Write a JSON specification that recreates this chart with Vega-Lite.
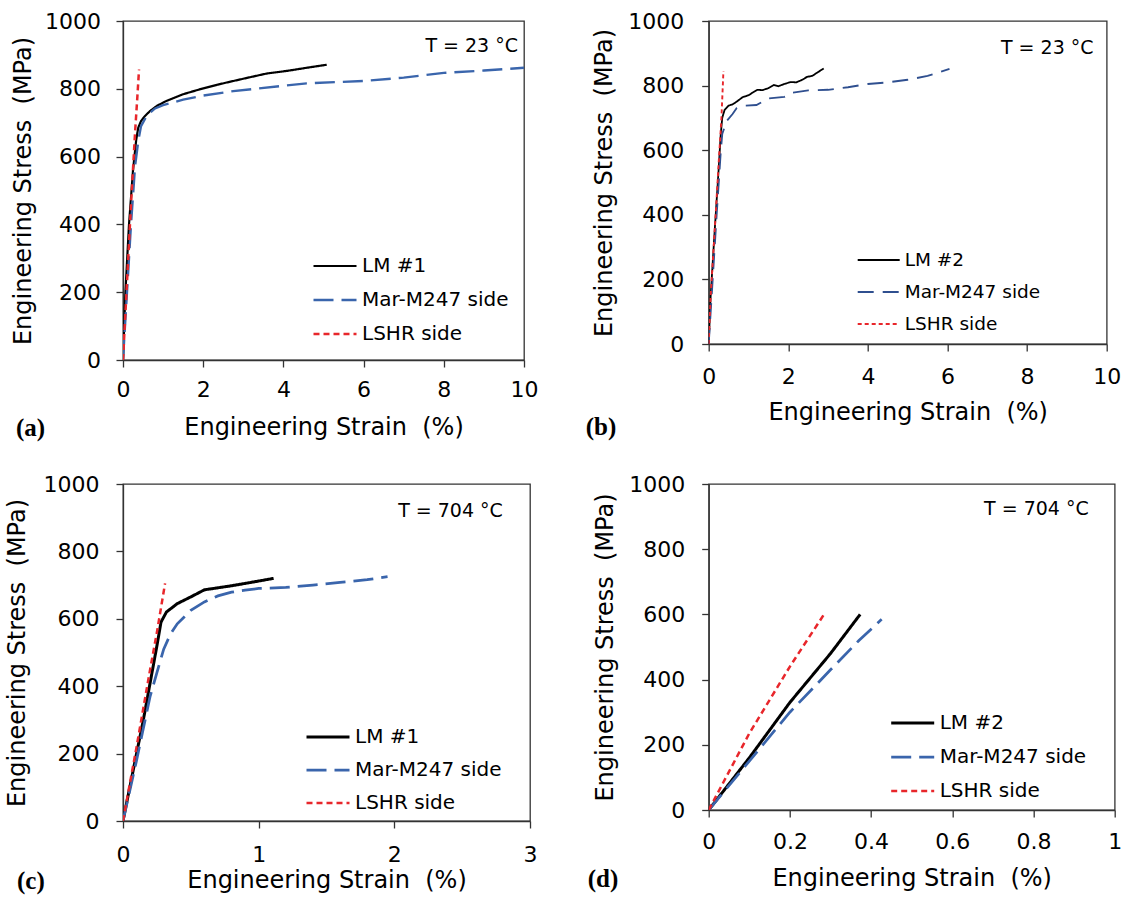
{
"$schema": "https://vega.github.io/schema/vega-lite/v6.json",
"padding": {"left": 5, "top": 9, "right": 0, "bottom": 0},
"background": "white",
"config": {
  "font": "DejaVu Sans",
  "view": {"stroke": "#333333", "strokeWidth": 1.3},
  "axis": {"domainColor": "#333333", "tickColor": "#333333", "tickSize": 7, "tickWidth": 1.3, "domainWidth": 1.3, "labelFont": "DejaVu Sans", "labelFontSize": 22, "labelColor": "#000000", "titleFont": "DejaVu Sans", "titleFontSize": 24, "titleFontWeight": "normal", "titleColor": "#000000", "grid": false, "labelFlush": false, "labelOverlap": false},
  "legend": {"labelFont": "DejaVu Sans", "labelColor": "#000000", "padding": 0}
},
"data": {"values": [
{"p":"a","s":"LM #1","x":0,"y":0},{"p":"a","s":"LM #1","x":0.03,"y":100},{"p":"a","s":"LM #1","x":0.06,"y":200},{"p":"a","s":"LM #1","x":0.15,"y":400},{"p":"a","s":"LM #1","x":0.25,"y":560},{"p":"a","s":"LM #1","x":0.33,"y":650},{"p":"a","s":"LM #1","x":0.38,"y":685},{"p":"a","s":"LM #1","x":0.45,"y":705},{"p":"a","s":"LM #1","x":0.55,"y":720},{"p":"a","s":"LM #1","x":0.67,"y":734},{"p":"a","s":"LM #1","x":0.85,"y":750},{"p":"a","s":"LM #1","x":1.08,"y":764},{"p":"a","s":"LM #1","x":1.5,"y":784},{"p":"a","s":"LM #1","x":1.93,"y":799},{"p":"a","s":"LM #1","x":2.35,"y":812},{"p":"a","s":"LM #1","x":2.75,"y":823},{"p":"a","s":"LM #1","x":3.2,"y":835},{"p":"a","s":"LM #1","x":3.58,"y":845},{"p":"a","s":"LM #1","x":4.1,"y":853},{"p":"a","s":"LM #1","x":4.58,"y":862},{"p":"a","s":"LM #1","x":5.08,"y":871},
{"p":"a","s":"Mar-M247 side","x":0,"y":0},{"p":"a","s":"Mar-M247 side","x":0.05,"y":100},{"p":"a","s":"Mar-M247 side","x":0.1,"y":200},{"p":"a","s":"Mar-M247 side","x":0.2,"y":400},{"p":"a","s":"Mar-M247 side","x":0.3,"y":570},{"p":"a","s":"Mar-M247 side","x":0.38,"y":645},{"p":"a","s":"Mar-M247 side","x":0.45,"y":690},{"p":"a","s":"Mar-M247 side","x":0.6,"y":722},{"p":"a","s":"Mar-M247 side","x":0.8,"y":742},{"p":"a","s":"Mar-M247 side","x":1.0,"y":752},{"p":"a","s":"Mar-M247 side","x":1.5,"y":768},{"p":"a","s":"Mar-M247 side","x":2.0,"y":780},{"p":"a","s":"Mar-M247 side","x":2.75,"y":793},{"p":"a","s":"Mar-M247 side","x":3.92,"y":808},{"p":"a","s":"Mar-M247 side","x":4.58,"y":816},{"p":"a","s":"Mar-M247 side","x":6,"y":823},{"p":"a","s":"Mar-M247 side","x":7,"y":833},{"p":"a","s":"Mar-M247 side","x":8,"y":847},{"p":"a","s":"Mar-M247 side","x":9,"y":854},{"p":"a","s":"Mar-M247 side","x":10,"y":862},
{"p":"a","s":"LSHR side","x":0,"y":0},{"p":"a","s":"LSHR side","x":0.1,"y":230},{"p":"a","s":"LSHR side","x":0.2,"y":460},{"p":"a","s":"LSHR side","x":0.3,"y":670},{"p":"a","s":"LSHR side","x":0.36,"y":780},{"p":"a","s":"LSHR side","x":0.4,"y":857},
{"p":"b","s":"LM #2","x":0,"y":0},{"p":"b","s":"LM #2","x":0.05,"y":150},{"p":"b","s":"LM #2","x":0.15,"y":350},{"p":"b","s":"LM #2","x":0.25,"y":540},{"p":"b","s":"LM #2","x":0.3,"y":645},{"p":"b","s":"LM #2","x":0.34,"y":700},{"p":"b","s":"LM #2","x":0.4,"y":725},{"p":"b","s":"LM #2","x":0.5,"y":738},{"p":"b","s":"LM #2","x":0.6,"y":742},{"p":"b","s":"LM #2","x":0.7,"y":750},{"p":"b","s":"LM #2","x":0.85,"y":764},{"p":"b","s":"LM #2","x":1.0,"y":770},{"p":"b","s":"LM #2","x":1.1,"y":778},{"p":"b","s":"LM #2","x":1.22,"y":787},{"p":"b","s":"LM #2","x":1.35,"y":786},{"p":"b","s":"LM #2","x":1.5,"y":792},{"p":"b","s":"LM #2","x":1.64,"y":802},{"p":"b","s":"LM #2","x":1.75,"y":798},{"p":"b","s":"LM #2","x":1.9,"y":805},{"p":"b","s":"LM #2","x":2.06,"y":811},{"p":"b","s":"LM #2","x":2.2,"y":810},{"p":"b","s":"LM #2","x":2.35,"y":818},{"p":"b","s":"LM #2","x":2.47,"y":827},{"p":"b","s":"LM #2","x":2.6,"y":830},{"p":"b","s":"LM #2","x":2.75,"y":842},{"p":"b","s":"LM #2","x":2.89,"y":853},
{"p":"b","s":"Mar-M247 side","x":0,"y":0},{"p":"b","s":"Mar-M247 side","x":0.05,"y":100},{"p":"b","s":"Mar-M247 side","x":0.1,"y":200},{"p":"b","s":"Mar-M247 side","x":0.2,"y":400},{"p":"b","s":"Mar-M247 side","x":0.3,"y":590},{"p":"b","s":"Mar-M247 side","x":0.34,"y":650},{"p":"b","s":"Mar-M247 side","x":0.45,"y":690},{"p":"b","s":"Mar-M247 side","x":0.6,"y":712},{"p":"b","s":"Mar-M247 side","x":0.7,"y":730},{"p":"b","s":"Mar-M247 side","x":0.9,"y":738},{"p":"b","s":"Mar-M247 side","x":1.2,"y":740},{"p":"b","s":"Mar-M247 side","x":1.5,"y":760},{"p":"b","s":"Mar-M247 side","x":1.9,"y":765},{"p":"b","s":"Mar-M247 side","x":2.1,"y":778},{"p":"b","s":"Mar-M247 side","x":2.5,"y":785},{"p":"b","s":"Mar-M247 side","x":3.0,"y":787},{"p":"b","s":"Mar-M247 side","x":3.5,"y":795},{"p":"b","s":"Mar-M247 side","x":4.0,"y":805},{"p":"b","s":"Mar-M247 side","x":4.5,"y":810},{"p":"b","s":"Mar-M247 side","x":5.0,"y":818},{"p":"b","s":"Mar-M247 side","x":5.5,"y":830},{"p":"b","s":"Mar-M247 side","x":6.05,"y":852},
{"p":"b","s":"LSHR side","x":0,"y":0},{"p":"b","s":"LSHR side","x":0.05,"y":150},{"p":"b","s":"LSHR side","x":0.15,"y":350},{"p":"b","s":"LSHR side","x":0.25,"y":560},{"p":"b","s":"LSHR side","x":0.32,"y":700},{"p":"b","s":"LSHR side","x":0.37,"y":845},
{"p":"c","s":"LM #1","x":0,"y":0},{"p":"c","s":"LM #1","x":0.05,"y":100},{"p":"c","s":"LM #1","x":0.1,"y":200},{"p":"c","s":"LM #1","x":0.15,"y":300},{"p":"c","s":"LM #1","x":0.2,"y":410},{"p":"c","s":"LM #1","x":0.25,"y":520},{"p":"c","s":"LM #1","x":0.28,"y":590},{"p":"c","s":"LM #1","x":0.32,"y":620},{"p":"c","s":"LM #1","x":0.4,"y":645},{"p":"c","s":"LM #1","x":0.5,"y":665},{"p":"c","s":"LM #1","x":0.6,"y":686},{"p":"c","s":"LM #1","x":0.7,"y":692},{"p":"c","s":"LM #1","x":0.8,"y":698},{"p":"c","s":"LM #1","x":0.9,"y":705},{"p":"c","s":"LM #1","x":1.0,"y":712},{"p":"c","s":"LM #1","x":1.11,"y":720},
{"p":"c","s":"Mar-M247 side","x":0,"y":0},{"p":"c","s":"Mar-M247 side","x":0.1,"y":180},{"p":"c","s":"Mar-M247 side","x":0.2,"y":370},{"p":"c","s":"Mar-M247 side","x":0.25,"y":440},{"p":"c","s":"Mar-M247 side","x":0.3,"y":510},{"p":"c","s":"Mar-M247 side","x":0.35,"y":555},{"p":"c","s":"Mar-M247 side","x":0.4,"y":585},{"p":"c","s":"Mar-M247 side","x":0.5,"y":625},{"p":"c","s":"Mar-M247 side","x":0.6,"y":650},{"p":"c","s":"Mar-M247 side","x":0.7,"y":668},{"p":"c","s":"Mar-M247 side","x":0.8,"y":679},{"p":"c","s":"Mar-M247 side","x":0.9,"y":685},{"p":"c","s":"Mar-M247 side","x":1.0,"y":690},{"p":"c","s":"Mar-M247 side","x":1.2,"y":693},{"p":"c","s":"Mar-M247 side","x":1.4,"y":700},{"p":"c","s":"Mar-M247 side","x":1.6,"y":708},{"p":"c","s":"Mar-M247 side","x":1.8,"y":716},{"p":"c","s":"Mar-M247 side","x":1.95,"y":725},
{"p":"c","s":"LSHR side","x":0,"y":0},{"p":"c","s":"LSHR side","x":0.1,"y":220},{"p":"c","s":"LSHR side","x":0.2,"y":450},{"p":"c","s":"LSHR side","x":0.25,"y":560},{"p":"c","s":"LSHR side","x":0.31,"y":705},
{"p":"d","s":"LM #2","x":0,"y":0},{"p":"d","s":"LM #2","x":0.1,"y":160},{"p":"d","s":"LM #2","x":0.2,"y":330},{"p":"d","s":"LM #2","x":0.3,"y":480},{"p":"d","s":"LM #2","x":0.373,"y":600},
{"p":"d","s":"Mar-M247 side","x":0,"y":0},{"p":"d","s":"Mar-M247 side","x":0.1,"y":150},{"p":"d","s":"Mar-M247 side","x":0.2,"y":300},{"p":"d","s":"Mar-M247 side","x":0.3,"y":430},{"p":"d","s":"Mar-M247 side","x":0.37,"y":520},{"p":"d","s":"Mar-M247 side","x":0.426,"y":585},
{"p":"d","s":"LSHR side","x":0,"y":0},{"p":"d","s":"LSHR side","x":0.1,"y":235},{"p":"d","s":"LSHR side","x":0.2,"y":440},{"p":"d","s":"LSHR side","x":0.284,"y":600}
]},
"columns": 2,
"bounds": "flush",
"align": "all",
"spacing": {"row": 124, "column": 178.7},
"resolve": {"scale": {"x": "independent", "y": "independent", "color": "independent", "strokeDash": "independent", "strokeWidth": "independent"}, "axis": {"x": "independent", "y": "independent"}, "legend": {"color": "independent", "strokeDash": "independent"}},
"concat": [
  {"width": 401, "height": 339,
   "title": {"text": "(a)", "orient": "bottom", "anchor": "start", "frame": "group", "dx": -107, "offset": -24, "font": "Liberation Serif", "fontSize": 25, "fontWeight": "bold", "color": "#000000"},
   "layer": [
    {"transform": [{"filter": "datum.p === 'a'"}],
     "mark": {"type": "line", "clip": true},
     "encoding": {
      "x": {"field": "x", "type": "quantitative", "scale": {"domain": [0, 10], "nice": false}, "axis": {"values": [0, 2, 4, 6, 8, 10], "format": "d", "title": "Engineering Strain \u00a0(%)", "labelPadding": 12.7, "titlePadding": 14.8}},
      "y": {"field": "y", "type": "quantitative", "scale": {"domain": [0, 1000], "nice": false}, "axis": {"values": [0, 200, 400, 600, 800, 1000], "format": "d", "title": "Engineering Stress \u00a0(MPa)", "labelPadding": 15.5, "titlePadding": 8.6}},
      "color": {"field": "s", "type": "nominal", "scale": {"domain": ["LM #1", "Mar-M247 side", "LSHR side"], "range": ["#000000", "#3A65AC", "#E8262B"]}, "legend": {"title": null, "orient": "none", "legendX": 189, "legendY": 222, "labelFontSize": 20, "rowPadding": 1, "symbolSize": 1849, "symbolStrokeWidth": 2.5, "labelOffset": 4}},
      "strokeDash": {"field": "s", "type": "nominal", "scale": {"domain": ["LM #1", "Mar-M247 side", "LSHR side"], "range": [[1, 0], [20, 8], [6, 4]]}, "legend": {"title": null, "orient": "none", "legendX": 189, "legendY": 222, "labelFontSize": 20, "rowPadding": 1, "symbolSize": 1849, "symbolStrokeWidth": 2.5, "labelOffset": 4}},
      "strokeWidth": {"field": "s", "type": "nominal", "scale": {"domain": ["LM #1", "Mar-M247 side", "LSHR side"], "range": [2.2, 2.5, 2.5]}, "legend": null}
     }},
    {"data": {"values": [{}]}, "mark": {"type": "text", "align": "right", "baseline": "middle", "fontSize": 19, "font": "DejaVu Sans", "color": "#000000"},
     "encoding": {"x": {"datum": 9.85}, "y": {"datum": 926}, "text": {"value": "T = 23 °C"}}}
   ]},
  {"width": 398, "height": 323,
   "title": {"text": "(b)", "orient": "bottom", "anchor": "start", "frame": "group", "dx": -123, "offset": -9.25, "font": "Liberation Serif", "fontSize": 25, "fontWeight": "bold", "color": "#000000"},
   "layer": [
    {"transform": [{"filter": "datum.p === 'b'"}],
     "mark": {"type": "line", "clip": true},
     "encoding": {
      "x": {"field": "x", "type": "quantitative", "scale": {"domain": [0, 10], "nice": false}, "axis": {"values": [0, 2, 4, 6, 8, 10], "format": "d", "title": "Engineering Strain \u00a0(%)", "labelPadding": 15.7, "titlePadding": 12.8}},
      "y": {"field": "y", "type": "quantitative", "scale": {"domain": [0, 1000], "nice": false}, "axis": {"values": [0, 200, 400, 600, 800, 1000], "format": "d", "title": "Engineering Stress \u00a0(MPa)", "labelPadding": 18, "titlePadding": 11}},
      "color": {"field": "s", "type": "nominal", "scale": {"domain": ["LM #2", "Mar-M247 side", "LSHR side"], "range": ["#000000", "#2F4F8F", "#E8262B"]}, "legend": {"title": null, "orient": "none", "legendX": 148, "legendY": 217, "labelFontSize": 18.5, "rowPadding": -1.5, "symbolSize": 1764, "symbolStrokeWidth": 2, "labelOffset": 4}},
      "strokeDash": {"field": "s", "type": "nominal", "scale": {"domain": ["LM #2", "Mar-M247 side", "LSHR side"], "range": [[1, 0], [16, 9], [4, 3]]}, "legend": {"title": null, "orient": "none", "legendX": 148, "legendY": 217, "labelFontSize": 18.5, "rowPadding": -1.5, "symbolSize": 1764, "symbolStrokeWidth": 2, "labelOffset": 4}},
      "strokeWidth": {"field": "s", "type": "nominal", "scale": {"domain": ["LM #2", "Mar-M247 side", "LSHR side"], "range": [1.8, 1.9, 1.9]}, "legend": null}
     }},
    {"data": {"values": [{}]}, "mark": {"type": "text", "align": "right", "baseline": "middle", "fontSize": 19, "font": "DejaVu Sans", "color": "#000000"},
     "encoding": {"x": {"datum": 9.67}, "y": {"datum": 917}, "text": {"value": "T = 23 °C"}}}
   ]},
  {"width": 407, "height": 337,
   "title": {"text": "(c)", "orient": "bottom", "anchor": "start", "frame": "group", "dx": -106, "offset": -23.7, "font": "Liberation Serif", "fontSize": 25, "fontWeight": "bold", "color": "#000000"},
   "layer": [
    {"transform": [{"filter": "datum.p === 'c'"}],
     "mark": {"type": "line", "clip": true},
     "encoding": {
      "x": {"field": "x", "type": "quantitative", "scale": {"domain": [0, 3], "nice": false}, "axis": {"values": [0, 1, 2, 3], "format": "d", "title": "Engineering Strain \u00a0(%)", "labelPadding": 16.7, "titlePadding": 2.8}},
      "y": {"field": "y", "type": "quantitative", "scale": {"domain": [0, 1000], "nice": false}, "axis": {"values": [0, 200, 400, 600, 800, 1000], "format": "d", "title": "Engineering Stress \u00a0(MPa)", "labelPadding": 17, "titlePadding": 13.3}},
      "color": {"field": "s", "type": "nominal", "scale": {"domain": ["LM #1", "Mar-M247 side", "LSHR side"], "range": ["#000000", "#3A65AC", "#E8262B"]}, "legend": {"title": null, "orient": "none", "legendX": 182, "legendY": 230, "labelFontSize": 20, "rowPadding": -0.5, "symbolSize": 1849, "symbolStrokeWidth": 3, "labelOffset": 4}},
      "strokeDash": {"field": "s", "type": "nominal", "scale": {"domain": ["LM #1", "Mar-M247 side", "LSHR side"], "range": [[1, 0], [20, 8], [6, 4]]}, "legend": {"title": null, "orient": "none", "legendX": 182, "legendY": 230, "labelFontSize": 20, "rowPadding": -0.5, "symbolSize": 1849, "symbolStrokeWidth": 3, "labelOffset": 4}},
      "strokeWidth": {"field": "s", "type": "nominal", "scale": {"domain": ["LM #1", "Mar-M247 side", "LSHR side"], "range": [3, 2.5, 3]}, "legend": null}
     }},
    {"data": {"values": [{}]}, "mark": {"type": "text", "align": "right", "baseline": "middle", "fontSize": 19, "font": "DejaVu Sans", "color": "#000000"},
     "encoding": {"x": {"datum": 2.8}, "y": {"datum": 921}, "text": {"value": "T = 704 °C"}}}
   ]},
  {"width": 406, "height": 326,
   "title": {"text": "(d)", "orient": "bottom", "anchor": "start", "frame": "group", "dx": -121, "offset": -23.6, "font": "Liberation Serif", "fontSize": 25, "fontWeight": "bold", "color": "#000000"},
   "layer": [
    {"transform": [{"filter": "datum.p === 'd'"}],
     "mark": {"type": "line", "clip": true},
     "encoding": {
      "x": {"field": "x", "type": "quantitative", "scale": {"domain": [0, 1], "nice": false}, "axis": {"values": [0, 0.2, 0.4, 0.6, 0.8, 1], "format": "~g", "title": "Engineering Strain \u00a0(%)", "labelPadding": 14, "titlePadding": 14.5}},
      "y": {"field": "y", "type": "quantitative", "scale": {"domain": [0, 1000], "nice": false}, "axis": {"values": [0, 200, 400, 600, 800, 1000], "format": "d", "title": "Engineering Stress \u00a0(MPa)", "labelPadding": 17, "titlePadding": 11}},
      "color": {"field": "s", "type": "nominal", "scale": {"domain": ["LM #2", "Mar-M247 side", "LSHR side"], "range": ["#000000", "#3A65AC", "#E8262B"]}, "legend": {"title": null, "orient": "none", "legendX": 181, "legendY": 216, "labelFontSize": 20, "rowPadding": 1, "symbolSize": 1849, "symbolStrokeWidth": 3, "labelOffset": 4}},
      "strokeDash": {"field": "s", "type": "nominal", "scale": {"domain": ["LM #2", "Mar-M247 side", "LSHR side"], "range": [[1, 0], [20, 8], [6, 4]]}, "legend": {"title": null, "orient": "none", "legendX": 181, "legendY": 216, "labelFontSize": 20, "rowPadding": 1, "symbolSize": 1849, "symbolStrokeWidth": 3, "labelOffset": 4}},
      "strokeWidth": {"field": "s", "type": "nominal", "scale": {"domain": ["LM #2", "Mar-M247 side", "LSHR side"], "range": [3, 2.5, 3]}, "legend": null}
     }},
    {"data": {"values": [{}]}, "mark": {"type": "text", "align": "right", "baseline": "middle", "fontSize": 19, "font": "DejaVu Sans", "color": "#000000"},
     "encoding": {"x": {"datum": 0.936}, "y": {"datum": 923}, "text": {"value": "T = 704 °C"}}}
   ]}
]
}
